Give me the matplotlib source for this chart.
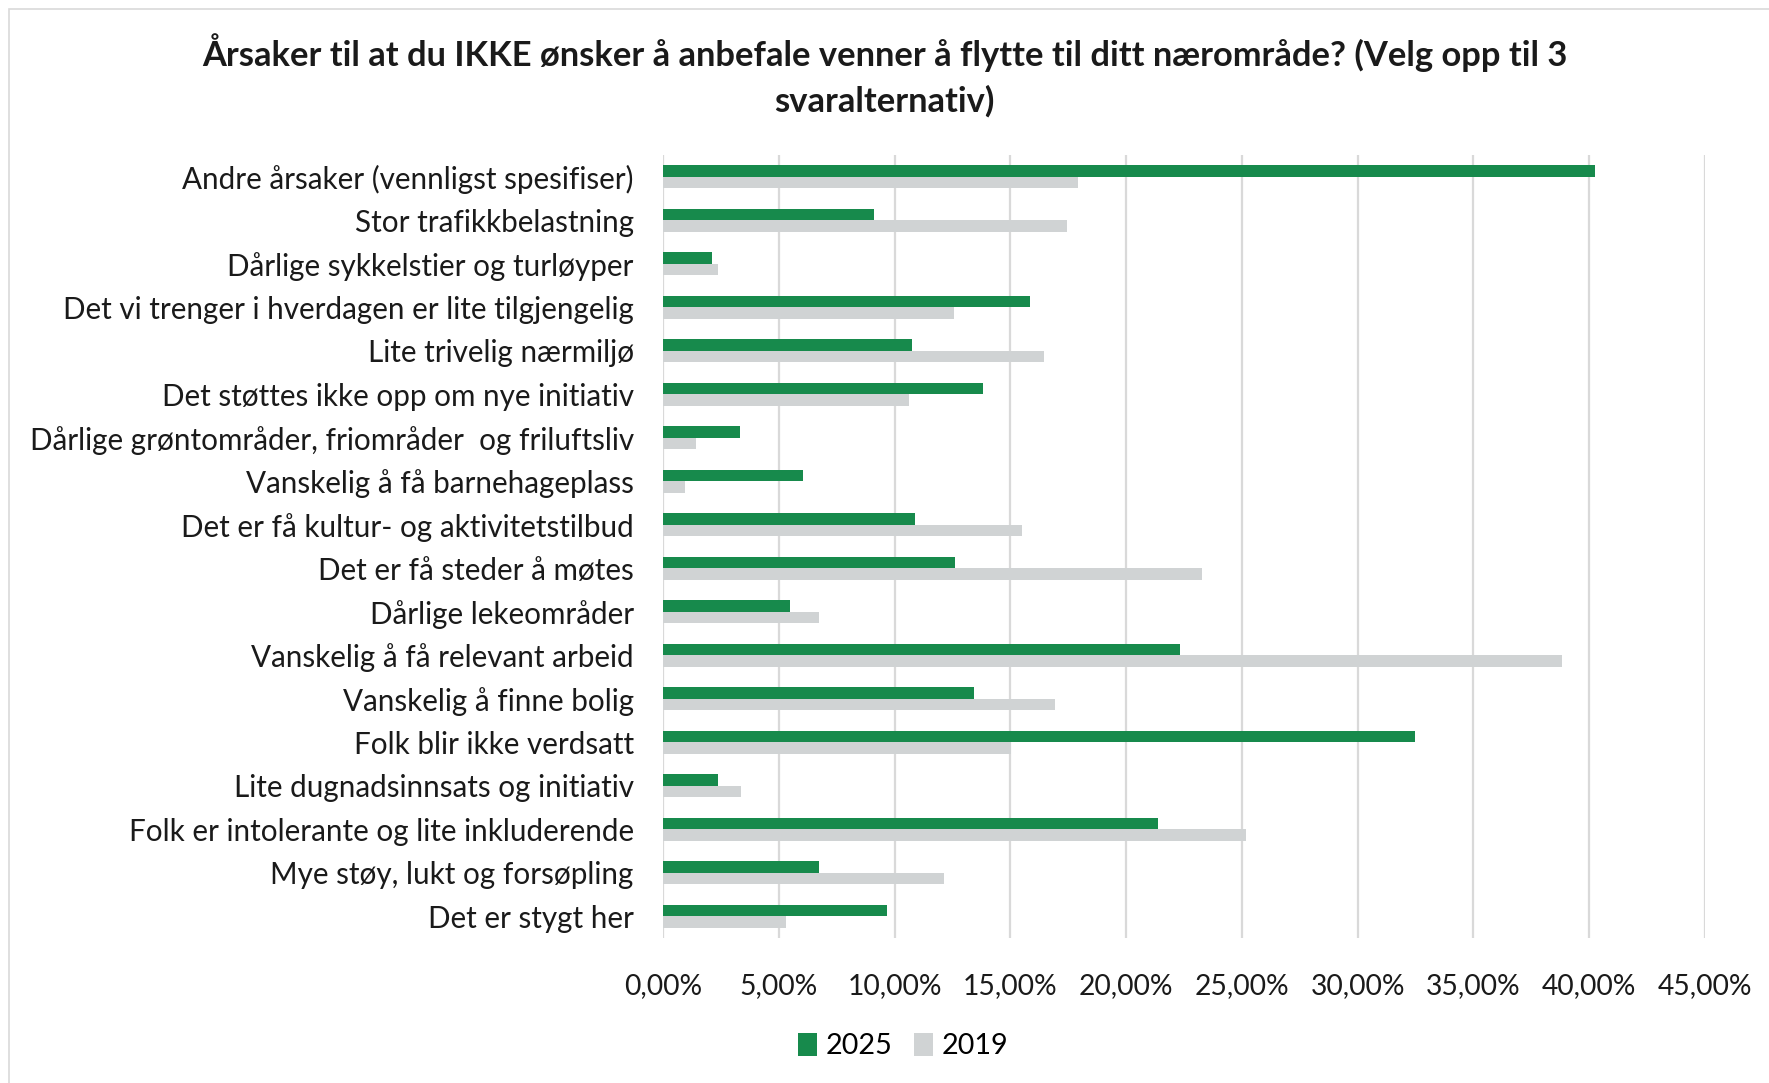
import matplotlib
matplotlib.use("Agg")
import matplotlib.pyplot as plt
from matplotlib.patches import Rectangle
from matplotlib.ticker import FuncFormatter
import numpy as np

categories = [
    "Andre årsaker (vennligst spesifiser)",
    "Stor trafikkbelastning",
    "Dårlige sykkelstier og turløyper",
    "Det vi trenger i hverdagen er lite tilgjengelig",
    "Lite trivelig nærmiljø",
    "Det støttes ikke opp om nye initiativ",
    "Dårlige grøntområder, friområder  og friluftsliv",
    "Vanskelig å få barnehageplass",
    "Det er få kultur- og aktivitetstilbud",
    "Det er få steder å møtes",
    "Dårlige lekeområder",
    "Vanskelig å få relevant arbeid",
    "Vanskelig å finne bolig",
    "Folk blir ikke verdsatt",
    "Lite dugnadsinnsats og initiativ",
    "Folk er intolerante og lite inkluderende",
    "Mye støy, lukt og forsøpling",
    "Det er stygt her",
]
v2025 = [40.27, 9.11, 2.11, 15.86, 10.76, 13.84, 3.33, 6.06, 10.88, 12.62,
         5.50, 22.33, 13.43, 32.46, 2.39, 21.39, 6.72, 9.67]
v2019 = [17.94, 17.44, 2.39, 12.56, 16.45, 10.63, 1.43, 0.96, 15.49, 23.26,
         6.75, 38.81, 16.95, 15.02, 3.36, 25.19, 12.13, 5.32]
series_names = ["2025", "2019"]
xticks = [0, 5, 10, 15, 20, 25, 30, 35, 40, 45]
title = "Årsaker til at du IKKE ønsker å anbefale venner å flytte til ditt nærområde? (Velg opp til 3\nsvaralternativ)"

green = "#178A4C"
gray = "#D0D3D4"
font = ["Lato", "DejaVu Sans"]
plt.rcParams['font.family'] = font

W, H = 1769, 1083
fig = plt.figure(figsize=(W / 100, H / 100), dpi=100)
fig.patch.set_facecolor("white")
ax = fig.add_axes([663 / W, 1 - 938 / H, (1705 - 663) / W, (938 - 155) / H])

y = np.arange(len(categories))
bh = 0.27
ax.barh(y - bh / 2, v2025, height=bh, color=green, label=series_names[0], zorder=3)
ax.barh(y + bh / 2, v2019, height=bh, color=gray, label=series_names[1], zorder=3)

ax.set_xlim(0, 45)
ax.set_ylim(len(categories) - 0.5, -0.5)
ax.set_xticks(xticks)
ax.xaxis.set_major_formatter(FuncFormatter(lambda v, p: f"{v:.2f}".replace(".", ",") + "%"))
ax.set_yticks(y)
ax.set_yticklabels(categories)
ax.tick_params(axis="y", length=0, pad=21, labelsize=21.3, labelcolor="#1a1a1a")
ax.tick_params(axis="x", length=0, pad=25, labelsize=20.3, labelcolor="#1a1a1a")
ax.grid(axis="x", color="#D9D9D9", linewidth=1.6, zorder=0)
for s in ax.spines.values():
    s.set_visible(False)

fig.text(0.5, 1 - 75 / H, title, ha="center", va="center", fontsize=24.8,
         fontweight="bold", color="#1a1a1a", linespacing=1.5)

leg = fig.legend(loc="center", bbox_to_anchor=(903 / W, 1 - 1046 / H), ncol=2,
                 frameon=False, fontsize=20.7, handlelength=0.65, handleheight=0.85,
                 handletextpad=0.3, columnspacing=0.75)

fig.add_artist(Rectangle((9 / W, -0.1), 1.2, 1 - 9 / H + 0.1, transform=fig.transFigure,
                         fill=False, edgecolor="#D9D9D9", linewidth=1.2))

fig.savefig("out.png", dpi=100)
